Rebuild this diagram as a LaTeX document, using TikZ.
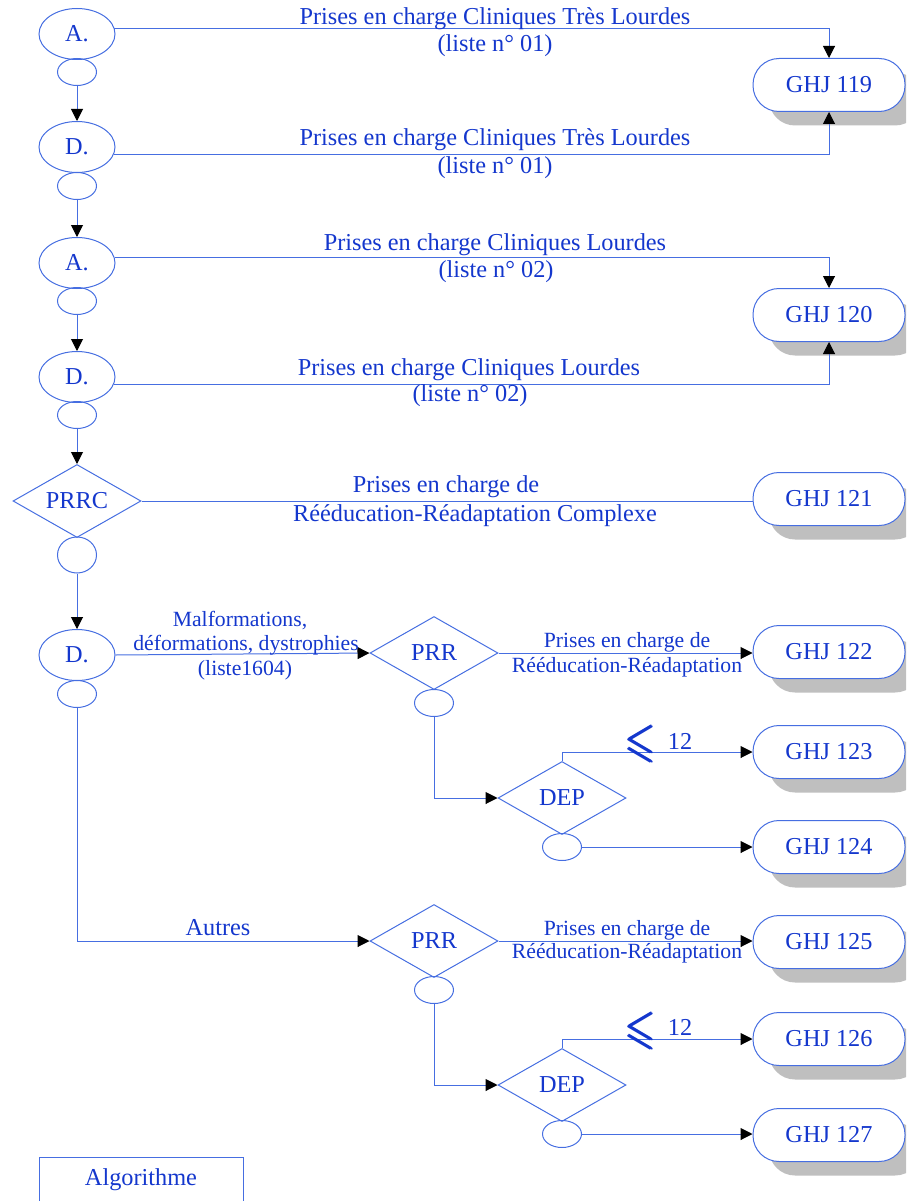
\documentclass[tikz,border=0pt]{standalone}
\usepackage{fontspec}
\usepackage{amsmath}
\usepackage{amssymb}
\setmainfont{Liberation Serif}
\usetikzlibrary{arrows.meta,shapes.geometric,shadows}
\definecolor{ln}{RGB}{70,110,225}
\definecolor{tx}{RGB}{20,55,205}
\begin{document}
\begin{tikzpicture}[x=1pt,y=-1pt,
  every node/.style={text=tx, inner sep=0pt, font=\fontsize{24.3}{28}\selectfont},
  conn/.style={draw=ln, line width=1pt},
  tip/.style={-{Triangle[length=12pt,width=12pt,color=black]}},
  bigell/.style={ellipse, draw=ln, line width=1pt, minimum width=76pt, minimum height=51pt},
  smallell/.style={ellipse, draw=ln, line width=1pt, minimum width=39pt, minimum height=27pt},
  dia/.style={diamond, aspect=1.75, draw=ln, line width=1pt, minimum width=128pt, minimum height=73pt},
  ghj/.style={rectangle, rounded corners=26pt, draw=ln, line width=1pt, fill=white, minimum width=152pt, minimum height=53pt, drop shadow={shadow xshift=16pt, shadow yshift=-14pt, fill=black!25, opacity=1}},
  sml/.style={font=\fontsize{21.7}{25}\selectfont},
  ineq/.style={xscale=1.6, yscale=2.0, font=\fontsize{24}{28}\selectfont},
]
\useasboundingbox (0,0) rectangle (906,1201);
\clip (0,0) rectangle (906,1201);

% left column
\node[bigell] (A1) at (77,34) {A.};
\node[smallell] (s1) at (77,72) {};
\node[bigell] (D1) at (77,147) {D.};
\node[smallell] (s2) at (77,186) {};
\node[bigell] (A2) at (77,263) {A.};
\node[smallell] (s3) at (77,301) {};
\node[bigell] (D2) at (77,377) {D.};
\node[smallell] (s4) at (77,415) {};
\node[dia] (PRRC) at (77,501) {PRRC};
\node[ellipse, draw=ln, line width=1pt, minimum width=39pt, minimum height=36pt] (c5) at (77,555) {};
\node[bigell] (D3) at (77,655) {D.};
\node[smallell] (s6) at (77,694) {};

% GHJ boxes
\node[ghj] (G119) at (829,85) {GHJ 119};
\node[ghj] (G120) at (829,315) {GHJ 120};
\node[ghj] (G121) at (829,499) {GHJ 121};
\node[ghj] (G122) at (829,652) {GHJ 122};
\node[ghj] (G123) at (829,752) {GHJ 123};
\node[ghj] (G124) at (829,847) {GHJ 124};
\node[ghj] (G125) at (829,942) {GHJ 125};
\node[ghj] (G126) at (829,1039) {GHJ 126};
\node[ghj] (G127) at (829,1135) {GHJ 127};

% middle decisions
\node[dia] (PRR1) at (434,653) {PRR};
\node[smallell] (sp1) at (434,703) {};
\node[dia] (DEP1) at (562,798) {DEP};
\node[smallell] (sd1) at (562,847) {};
\node[dia] (PRR2) at (434,941) {PRR};
\node[smallell] (sp2) at (434,990) {};
\node[dia] (DEP2) at (562,1085) {DEP};
\node[smallell] (sd2) at (562,1134) {};

% legend box
\node[draw=ln, line width=1pt, minimum width=204pt, minimum height=46pt] (alg) at (141,1180) {Algorithme};

% connectors
\draw[conn,tip] (A1.9) -| (G119.north);
\draw[conn,tip] (D1.-12) -| (G119.south);
\draw[conn,tip] (A2.8) -| (G120.north);
\draw[conn,tip] (D2.-11) -| (G120.south);
\draw[conn,tip] (s1.south) -- (D1.north);
\draw[conn,tip] (s2.south) -- (A2.north);
\draw[conn,tip] (s3.south) -- (D2.north);
\draw[conn,tip] (s4.south) -- (PRRC.north);
\draw[conn,tip] (c5.south) -- (D3.north);
\draw[conn] (PRRC.east) -- (PRRC.east -| G121.west);
\draw[conn,tip] (D3.east) -- (PRR1.west);
\draw[conn,tip] (s6.south) |- (PRR2.west);
\draw[conn,tip] (PRR1.east) -- (PRR1.east -| G122.west);
\draw[conn,tip] (sp1.south) |- (DEP1.west);
\draw[conn,tip] (DEP1.north) |- (G123.west);
\draw[conn,tip] (sd1.east) -- (sd1.east -| G124.west);
\draw[conn,tip] (PRR2.east) -- (PRR2.east -| G125.west);
\draw[conn,tip] (sp2.south) |- (DEP2.west);
\draw[conn,tip] (DEP2.north) |- (G126.west);
\draw[conn,tip] (sd2.east) -- (sd2.east -| G127.west);

% labels
\node (t1a) at (495,19) {Prises en charge Cliniques Très Lourdes};
\node (t1b) at (495,46) {(liste n° 01)};
\node (t2a) at (495,139.5) {Prises en charge Cliniques Très Lourdes};
\node (t2b) at (495,168) {(liste n° 01)};
\node (t3a) at (495,244.5) {Prises en charge Cliniques Lourdes};
\node (t3b) at (496,272) {(liste n° 02)};
\node (t4a) at (469,369.5) {Prises en charge Cliniques Lourdes};
\node (t4b) at (470,396) {(liste n° 02)};
\node (t5a) at (446,487) {Prises en charge de};
\node (t5b) at (475,516) {Rééducation-Réadaptation Complexe};
\node[sml] (t6a) at (240,621) {Malformations,};
\node[sml] (t6b) at (246,645) {déformations, dystrophies};
\node[sml] (t6c) at (245,670) {(liste1604)};
\node[sml] (t7a) at (627,642) {Prises en charge de};
\node[sml] (t7b) at (627,667) {Rééducation-Réadaptation};
\node[sml] (t8a) at (627,930) {Prises en charge de};
\node[sml] (t8b) at (627,953) {Rééducation-Réadaptation};
\node (t9) at (218,928) {Autres};
\node[ineq] (le1) at (641,744) {$\pmb{\leqslant}$};
\node (n1) at (680,741) {12};
\node[ineq] (le2) at (641,1031) {$\pmb{\leqslant}$};
\node (n2) at (680,1027) {12};
\end{tikzpicture}
\end{document}
